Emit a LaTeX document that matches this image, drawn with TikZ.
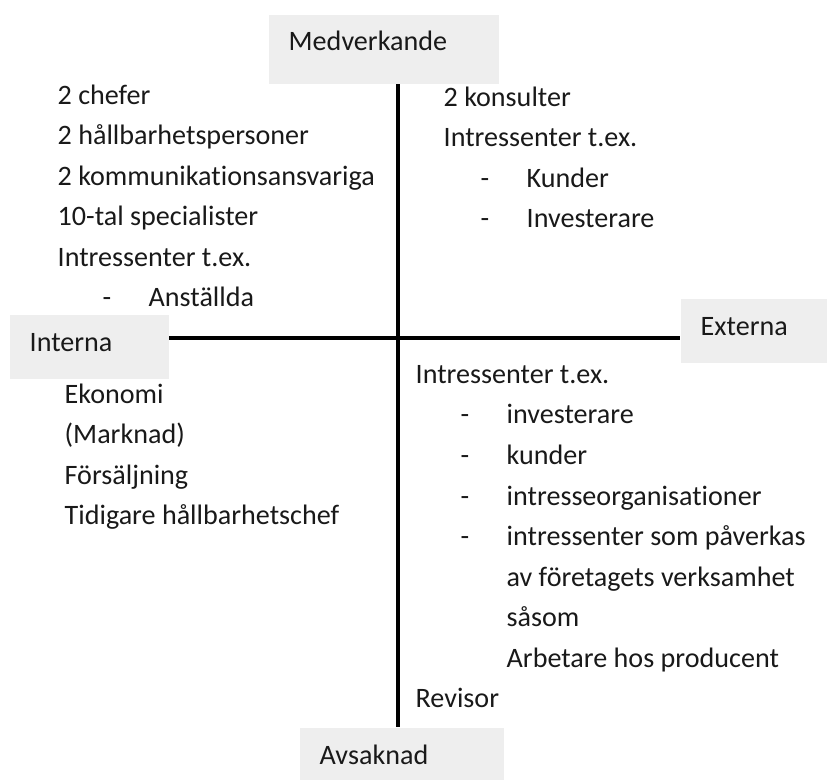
\documentclass[tikz,border=0pt]{standalone}
\usepackage{fontspec}
\setmainfont{Carlito}[Ligatures=NoCommon]
\usepackage{xcolor}
\usepackage{tikz}
\definecolor{boxgray}{HTML}{EEEEEE}
% list row with a dash, text at a fixed indent
\newcommand{\streck}[2][0.45cm]{\makebox[\dimexpr#1+0.46cm\relax][l]{\hspace*{#1}-}#2}
\newcommand{\indrag}[1]{\hspace*{0.91cm}#1}

\begin{document}
\begin{tikzpicture}[
  every node/.style={font=\fontsize{8pt}{11.55pt}\selectfont, text=black!90},
  axbox/.style={rectangle, fill=boxgray, anchor=north west,
                inner xsep=0.2cm, inner ysep=0pt, align=left,
                text height=0.18cm, text depth=0.09cm},   % axis end labels
  block/.style={anchor=base west, inner sep=0pt, align=left}, % base = last line
  axis/.style={line width=1.4pt, black},
]
\useasboundingbox (0,0) rectangle (8.27,-7.80);

%% ── axis end boxes ───────────────────────────────────────────────────
\node[axbox, text width=1.90cm, minimum height=0.69cm, text depth=0.15cm]
    (med) at (2.68,-0.14) {Medverkande};
\node[axbox, text width=1.19cm, minimum height=0.64cm] (int) at (0.09,-3.14) {Interna};
\node[axbox, text width=1.07cm, minimum height=0.64cm] (ext) at (6.80,-2.98) {Externa};
\node[axbox, text width=1.64cm, minimum height=0.64cm] (avs) at (2.99,-7.27) {Avsaknad};

%% ── axes ─────────────────────────────────────────────────────────────
\coordinate (ctr) at (3.98,-3.38);
\draw[axis] (med.south -| ctr) -- (avs.north -| ctr);
\draw[axis] (int.east |- ctr) -- (ext.west |- ctr);

%% ── quadrant texts ───────────────────────────────────────────────────
\node[block] (intmed) at (0.57,-3.07)
  {2 chefer\\2 hållbarhetspersoner\\2 kommunikationsansvariga\\
   10-tal specialister\\Intressenter t.ex.\\\streck{Anställda}};
\node[block] (extmed) at (4.43,-2.28)
  {2 konsulter\\Intressenter t.ex.\\\streck[0.37cm]{Kunder}\\
   \streck[0.37cm]{Investerare}};
\node[block] (intavs) at (0.64,-5.25)
  {Ekonomi\\(Marknad)\\Försäljning\\Tidigare hållbarhetschef};
\node[block] (extavs) at (4.15,-7.08)
  {Intressenter t.ex.\\\streck{investerare}\\\streck{kunder}\\
   \streck{intresseorganisationer}\\\streck{intressenter som påverkas}\\
   \indrag{av företagets verksamhet}\\\indrag{såsom}\\
   \indrag{Arbetare hos producent}\\Revisor};

\end{tikzpicture}
\end{document}
